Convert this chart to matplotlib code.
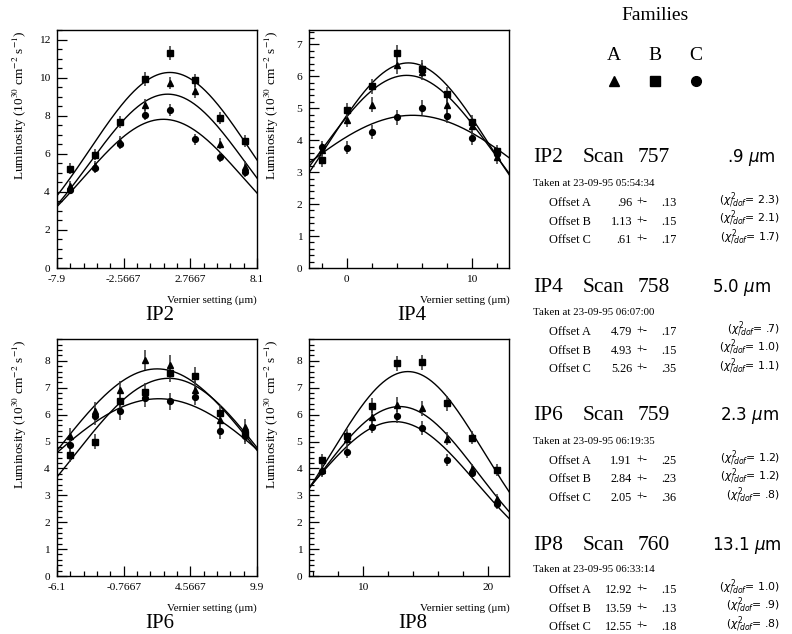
import numpy as np
import matplotlib
matplotlib.use("Agg")
import matplotlib.pyplot as plt
from matplotlib.lines import Line2D
from matplotlib.ticker import FixedLocator, MultipleLocator

# ---------------- data ----------------
families = ["A", "B", "C"]

ip2_x = [-6.9, -4.9, -2.9, -0.9, 1.1, 3.1, 5.1, 7.1]
ip2_a = [4.31, 5.35, 6.62, 8.55, 9.72, 9.30, 6.53, 5.31]
ip2_b = [5.22, 5.96, 7.67, 9.92, 11.30, 9.86, 7.88, 6.66]
ip2_c = [4.12, 5.25, 6.53, 8.06, 8.29, 6.76, 5.83, 5.04]
ip2_err_a = [0.28, 0.28, 0.30, 0.33, 0.33, 0.35, 0.30, 0.30]
ip2_err_b = [0.28, 0.30, 0.33, 0.35, 0.38, 0.35, 0.32, 0.30]
ip2_err_c = [0.25, 0.27, 0.30, 0.30, 0.32, 0.28, 0.28, 0.27]

ip4_x = [-2, 0, 2, 4, 6, 8, 10, 12]
ip4_a = [3.70, 4.62, 5.11, 6.34, 6.15, 5.10, 4.43, 3.47]
ip4_b = [3.37, 4.96, 5.69, 6.72, 6.24, 5.44, 4.57, 3.65]
ip4_c = [3.79, 3.77, 4.27, 4.72, 5.02, 4.76, 4.07, 3.58]
ip4_err_a = [0.20, 0.22, 0.24, 0.26, 0.26, 0.24, 0.22, 0.20]
ip4_err_b = [0.20, 0.22, 0.24, 0.27, 0.26, 0.24, 0.22, 0.20]
ip4_err_c = [0.20, 0.20, 0.22, 0.23, 0.24, 0.23, 0.22, 0.20]

ip6_x = [-5.1, -3.1, -1.1, 0.9, 2.9, 4.9, 6.9, 8.9]
ip6_a = [5.22, 6.15, 6.93, 8.04, 7.86, 6.93, 5.80, 5.53]
ip6_b = [4.51, 5.00, 6.50, 6.83, 7.54, 7.45, 6.07, 5.28]
ip6_c = [4.87, 5.93, 6.13, 6.62, 6.49, 6.67, 5.38, 5.22]
ip6_err_a = [0.30, 0.32, 0.33, 0.38, 0.36, 0.33, 0.32, 0.32]
ip6_err_b = [0.28, 0.28, 0.32, 0.33, 0.34, 0.33, 0.30, 0.28]
ip6_err_c = [0.30, 0.30, 0.32, 0.33, 0.33, 0.33, 0.30, 0.30]

ip8_x = [6.7, 8.7, 10.7, 12.7, 14.7, 16.7, 18.7, 20.7]
ip8_a = [3.93, 5.10, 5.90, 6.36, 6.23, 5.11, 3.96, 2.85]
ip8_b = [4.30, 5.20, 6.33, 7.91, 7.94, 6.42, 5.14, 3.94]
ip8_c = [3.89, 4.60, 5.55, 5.95, 5.51, 4.30, 3.83, 2.66]
ip8_err_a = [0.22, 0.25, 0.27, 0.28, 0.28, 0.25, 0.22, 0.20]
ip8_err_b = [0.22, 0.25, 0.27, 0.28, 0.28, 0.27, 0.25, 0.22]
ip8_err_c = [0.20, 0.22, 0.25, 0.25, 0.25, 0.22, 0.20, 0.18]

# fitted offsets (peak positions), their errors, and chi2/dof per family A, B, C
ip2_offset = [0.96, 1.13, 0.61]
ip4_offset = [4.79, 4.93, 5.26]
ip6_offset = [1.91, 2.84, 2.05]
ip8_offset = [12.92, 13.59, 12.55]
ip2_offset_err = [0.13, 0.15, 0.17]
ip4_offset_err = [0.17, 0.15, 0.35]
ip6_offset_err = [0.25, 0.23, 0.36]
ip8_offset_err = [0.15, 0.13, 0.18]
ip2_chi2 = [2.3, 2.1, 1.7]
ip4_chi2 = [0.7, 1.0, 1.1]
ip6_chi2 = [1.2, 1.2, 0.8]
ip8_chi2 = [1.0, 0.9, 0.8]

# gaussian fit amplitude and width per family A, B, C
ip2_amp = [9.13, 10.27, 7.81]
ip4_amp = [6.03, 6.42, 4.78]
ip6_amp = [7.70, 7.35, 6.59]
ip8_amp = [6.30, 7.60, 5.74]
ip2_sigma = [6.22, 6.40, 6.40]
ip4_sigma = [6.88, 6.42, 9.57]
ip6_sigma = [8.00, 7.60, 9.57]
ip8_sigma = [6.30, 6.08, 6.50]

ip_names = ["IP2", "IP4", "IP6", "IP8"]
scan_numbers = [757, 758, 759, 760]
scan_times = ["23-09-95 05:54:34", "23-09-95 06:07:00",
              "23-09-95 06:19:35", "23-09-95 06:33:14"]
mean_offsets = [0.9, 5.0, 2.3, 13.1]

ip2_ticks = [-7.9, -2.5667, 2.7667, 8.1]
ip2_ticklabels = ["-7.9", "-2.5667", "2.7667", "8.1"]
ip4_ticks = [0, 10]
ip4_ticklabels = ["0", "10"]
ip6_ticks = [-6.1, -0.7667, 4.5667, 9.9]
ip6_ticklabels = ["-6.1", "-0.7667", "4.5667", "9.9"]
ip8_ticks = [10, 20]
ip8_ticklabels = ["10", "20"]

# ---------------- figure ----------------
W, H = 792, 634
fig = plt.figure(figsize=(W / 100, H / 100), dpi=100)
plt.rcParams["mathtext.fontset"] = "stix"
SERIF = "Liberation Serif"
SANS = "DejaVu Sans"


def fx(px):
    return px / W


def fy(py):
    return 1 - py / H


def fmt(v, nd):
    s = f"{v:.{nd}f}"
    if s.startswith("0."):
        s = s[1:]
    return s


markers = ["^", "s", "o"]
msizes = [4.2, 4.0, 4.2]

panels = [
    dict(name="IP2", x=ip2_x, y=[ip2_a, ip2_b, ip2_c], e=[ip2_err_a, ip2_err_b, ip2_err_c],
         off=ip2_offset, amp=ip2_amp, sig=ip2_sigma, ticks=ip2_ticks, tl=ip2_ticklabels,
         ymax=12.5, ymaj=2, ymin_=0.5, xminor=16 / 15, pos=(57, 30, 200, 238)),
    dict(name="IP4", x=ip4_x, y=[ip4_a, ip4_b, ip4_c], e=[ip4_err_a, ip4_err_b, ip4_err_c],
         off=ip4_offset, amp=ip4_amp, sig=ip4_sigma, ticks=ip4_ticks, tl=ip4_ticklabels,
         ymax=7.45, ymaj=1, ymin_=0.2, xminor=2, pos=(309.3, 30, 200, 238)),
    dict(name="IP6", x=ip6_x, y=[ip6_a, ip6_b, ip6_c], e=[ip6_err_a, ip6_err_b, ip6_err_c],
         off=ip6_offset, amp=ip6_amp, sig=ip6_sigma, ticks=ip6_ticks, tl=ip6_ticklabels,
         ymax=8.8, ymaj=1, ymin_=0.2, xminor=16 / 15, pos=(57, 339.3, 200, 236.7)),
    dict(name="IP8", x=ip8_x, y=[ip8_a, ip8_b, ip8_c], e=[ip8_err_a, ip8_err_b, ip8_err_c],
         off=ip8_offset, amp=ip8_amp, sig=ip8_sigma, ticks=ip8_ticks, tl=ip8_ticklabels,
         ymax=8.8, ymaj=1, ymin_=0.2, xminor=2, pos=(309.3, 339.3, 200, 236.7)),
]

for p in panels:
    left, top, w, h = p["pos"]
    ax = fig.add_axes([fx(left), fy(top + h), w / W, h / H])
    x = np.array(p["x"], dtype=float)
    x0, x1 = x.min() - 1, x.max() + 1
    xs = np.linspace(x0, x1, 300)
    for i in range(3):
        curve = p["amp"][i] * np.exp(-0.5 * ((xs - p["off"][i]) / p["sig"][i]) ** 2)
        ax.plot(xs, curve, color="black", lw=1.0, zorder=2)
    for i in range(3):
        ax.errorbar(x, p["y"][i], yerr=p["e"][i], fmt=markers[i], ms=msizes[i],
                    color="black", ecolor="#333333", elinewidth=1.1, capsize=0, zorder=3)
    ax.set_xlim(x0, x1)
    ax.set_ylim(0, p["ymax"])
    ax.xaxis.set_major_locator(FixedLocator(p["ticks"]))
    ax.set_xticklabels(p["tl"])
    if p["name"] in ("IP2", "IP6"):
        ax.xaxis.set_minor_locator(FixedLocator(np.arange(x0, x1 + 1e-6, p["xminor"])))
    else:
        ax.xaxis.set_minor_locator(MultipleLocator(p["xminor"]))
    ax.yaxis.set_major_locator(MultipleLocator(p["ymaj"]))
    ax.yaxis.set_minor_locator(MultipleLocator(p["ymin_"]))
    ax.tick_params(which="both", direction="in", top=False, right=False,
                   labelsize=8.2, width=0.9, pad=5)
    ax.tick_params(which="major", length=7)
    ax.tick_params(which="minor", length=3.5)
    for lab in ax.get_xticklabels() + ax.get_yticklabels():
        lab.set_family(SERIF)
    for s in ax.spines.values():
        s.set_linewidth(1.0)
    # axis titles
    fig.text(fx(left + w), fy(top + h + 32), "Vernier setting (\u03bcm)", ha="right",
             va="center", family=SERIF, fontsize=8)
    fig.text(fx(left - 37), fy(top), r"Luminosity (10$^{30}$ cm$^{-2}$ s$^{-1}$)",
             rotation=90, ha="center", va="top", family=SERIF, fontsize=9.5)
    fig.text(fx(left + w / 2 + 3), fy(top + h + 48), p["name"], ha="center", va="center",
             family=SERIF, fontsize=15)

# ---------------- families key ----------------
fig.text(fx(655), fy(16), "Families", ha="center", va="center", family=SERIF, fontsize=14)
for xpos, fam, mk in zip([614, 655, 696], families, markers):
    fig.text(fx(xpos), fy(55), fam, ha="center", va="center", family=SERIF, fontsize=14)
    fig.add_artist(Line2D([fx(xpos)], [fy(81)], marker=mk, ms=7, color="black",
                          linestyle="none", transform=fig.transFigure))

# ---------------- fit summaries ----------------
offsets_all = [ip2_offset, ip4_offset, ip6_offset, ip8_offset]
offerr_all = [ip2_offset_err, ip4_offset_err, ip6_offset_err, ip8_offset_err]
chi_all = [ip2_chi2, ip4_chi2, ip6_chi2, ip8_chi2]
title_y = [158, 287, 416, 545]
mean_x = [727, 712, 720, 712]

for k in range(4):
    ty = title_y[k]
    fig.text(fx(533), fy(ty), ip_names[k], ha="left", va="center", family=SERIF, fontsize=15.5)
    fig.text(fx(583), fy(ty), "Scan", ha="left", va="center", family=SERIF, fontsize=15.5)
    fig.text(fx(638), fy(ty), str(scan_numbers[k]), ha="left", va="center",
             family=SERIF, fontsize=15.5)
    fig.text(fx(mean_x[k]), fy(ty), fmt(mean_offsets[k], 1) + r" $\mu$m", ha="left",
             va="center", family=SANS, fontsize=12, math_fontfamily="dejavusans")
    fig.text(fx(533), fy(ty + 25), "Taken at " + scan_times[k], ha="left", va="center",
             family=SERIF, fontsize=7.8)
    for i in range(3):
        ry = ty + 45 + 18.5 * i
        fig.text(fx(549), fy(ry), "Offset " + families[i], ha="left", va="center",
                 family=SERIF, fontsize=8.8)
        fig.text(fx(632), fy(ry), fmt(offsets_all[k][i], 2), ha="right", va="center",
                 family=SERIF, fontsize=8.8)
        fig.text(fx(636), fy(ry), "+-", ha="left", va="center", family=SERIF, fontsize=8.8)
        fig.text(fx(661), fy(ry), fmt(offerr_all[k][i], 2), ha="left", va="center",
                 family=SERIF, fontsize=8.8)
        fig.text(fx(780), fy(ry - 3), r"($\chi^2_{/dof}$= " + fmt(chi_all[k][i], 1) + ")",
                 ha="right", va="center", family=SANS, fontsize=7.8,
                 math_fontfamily="dejavusans")

fig.savefig("out.png", dpi=100)
